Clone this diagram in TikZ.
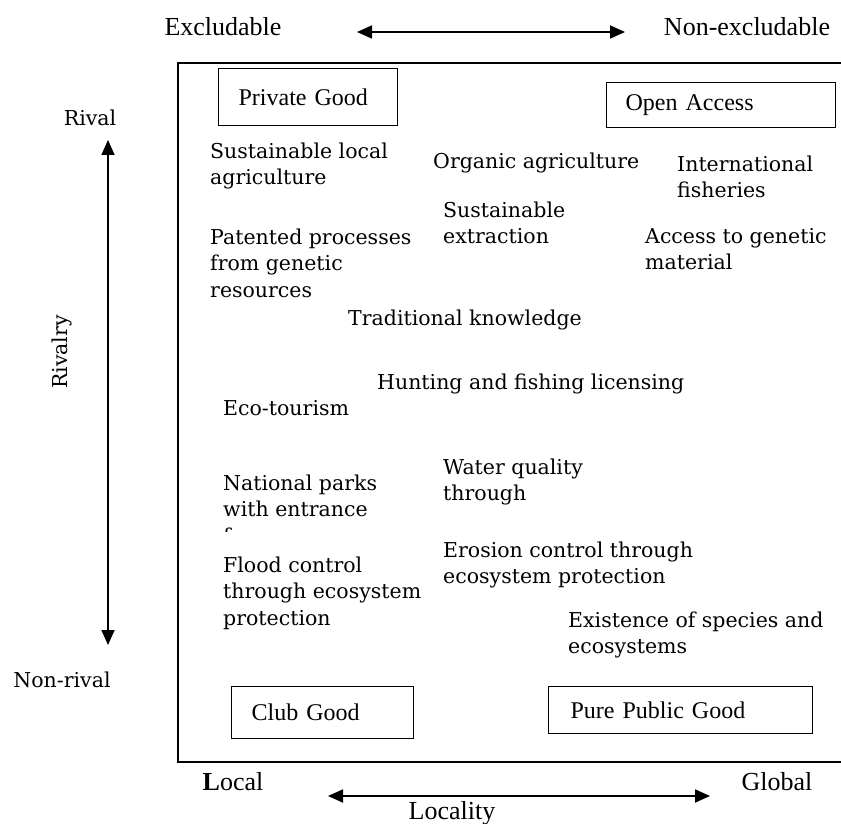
\documentclass[tikz,border=0pt]{standalone}
\usepackage{fontspec}
\setmainfont{DejaVu Serif}
\newfontfamily\axisfont{Liberation Serif}
\usetikzlibrary{arrows.meta}
\begin{document}
\begin{tikzpicture}[x=1pt,y=-1pt,
  item/.style={anchor=north west, inner sep=0pt, align=left,
    font=\fontsize{20.5}{26.5}\selectfont, yshift=18.55pt},
  gbox/.style={draw, line width=1.3pt, anchor=north west, align=left,
    inner ysep=0pt, font=\axisfont\fontsize{24}{28}\selectfont},
  axlabel/.style={inner sep=0pt, font=\axisfont\fontsize{26}{30}\selectfont},
  rivlabel/.style={inner sep=0pt, font=\fontsize{20.5}{24}\selectfont},
  axarrow/.style={line width=1.8pt, {Triangle[length=15pt,width=13pt]}-{Triangle[length=15pt,width=13pt]}}
]
\useasboundingbox (0,0) rectangle (841,824);

% frame
\draw[line width=1.3pt] (178,63) rectangle (850,762);

% top axis
\node[axlabel] (excl) at (223,27) {Excludable};
\node[axlabel] (nonexcl) at (747,27) {Non-excludable};
\coordinate (tl) at (357,32);
\coordinate (tr) at (625,32);
\draw[axarrow] (tl) -- (tr);

% left axis
\node[rivlabel] (rival) at (90,118) {Rival};
\node[rivlabel] (nonrival) at (62,680) {Non-rival};
\node[rivlabel, rotate=90] (rivalry) at (62,352) {Rivalry};
\coordinate (lt) at (108,140);
\coordinate (lb) at (108,645);
\draw[axarrow] (lt) -- (lb);

% bottom axis
\node[axlabel, anchor=base] (local) at (233,790) {\textbf{L}ocal};
\node[axlabel, anchor=base] (global) at (777,790) {Global};
\node[axlabel, anchor=base] (locality) at (452,819) {Locality};
\coordinate (bl) at (328,796);
\coordinate (br) at (710,796);
\draw[axarrow] (bl) -- (br);

% corner boxes
\node[gbox, text width=139pt, inner xsep=20pt, minimum height=57pt] (priv) at (218,68) {Private Good};
\node[gbox, text width=191pt, inner xsep=19pt, minimum height=45pt] (open) at (606,82) {Open Access};
\node[gbox, text width=142pt, inner xsep=20pt, minimum height=52pt] (club) at (231,686) {Club Good};
\node[gbox, text width=220pt, inner xsep=22pt, minimum height=47pt] (pure) at (548,686) {Pure Public Good};

% items
\node[item] (sla) at (210,158) {\strut Sustainable local\\agriculture};
\node[item] (org) at (433,168) {\strut Organic agriculture};
\node[item] (intl) at (677,171) {\strut International\\fisheries};
\node[item] (sext) at (443,217) {\strut Sustainable\\extraction};
\node[item] (pat) at (210,244) {\strut Patented processes\\from genetic\\resources};
\node[item] (acc) at (645,243) {\strut Access to genetic\\material};
\node[item] (trad) at (348,325) {\strut Traditional knowledge};
\node[item] (hunt) at (377,389) {\strut Hunting and fishing licensing};
\node[item] (eco) at (223,415) {\strut Eco-tourism};
\node[item] (water) at (443,474) {\strut Water quality\\through};
\begin{scope}
  \clip (200,440) rectangle (430,531);
  \node[item] (natl) at (223,490) {\strut National parks\\with entrance\\f};
\end{scope}
\node[item] (flood) at (223,572) {\strut Flood control\\through ecosystem\\protection};
\node[item] (eros) at (443,557) {\strut Erosion control through\\ecosystem protection};
\node[item] (exist) at (568,627) {\strut Existence of species and\\ecosystems};
\end{tikzpicture}
\end{document}
